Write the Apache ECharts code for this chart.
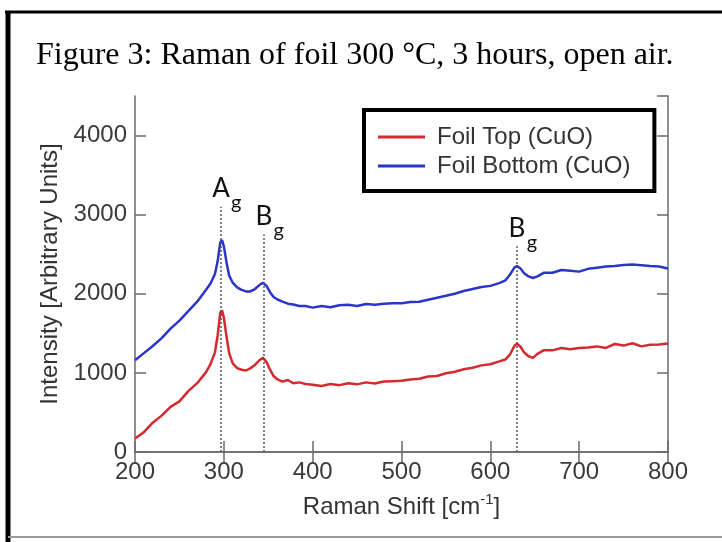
<!DOCTYPE html>
<html>
<head>
<meta charset="utf-8">
<title>Raman of foil 300 °C</title>
<script src="https://cdn.jsdelivr.net/npm/echarts@6.0.0/dist/echarts.min.js"></script>
<style>
  html, body { margin: 0; padding: 0; background: #fff; }
  .chart { width: 722px; height: 542px; }
</style>
</head>
<body>
<div class="chart"></div>
<script>
// Raman shift (cm-1)
var shift = [200, 210, 220, 230, 240, 250, 260, 270, 280, 285, 290, 293, 296, 298, 300, 303, 306, 310, 315, 320,
  325, 330, 335, 340, 344, 348, 352, 356, 360, 366, 372, 378, 385, 392, 400, 410, 420, 430, 440, 450,
  460, 470, 480, 490, 500, 510, 520, 530, 540, 550, 560, 570, 580, 590, 600, 610, 617, 622, 627, 630,
  634, 638, 643, 648, 653, 660, 670, 680, 690, 700, 710, 720, 730, 740, 750, 760, 770, 780, 790, 800];
// Foil Top (CuO)
var topFoil = [170, 250, 370, 460, 570, 640, 770, 870, 1010, 1110, 1260, 1470, 1760, 1790, 1700, 1460, 1250, 1120, 1060, 1040,
  1030, 1060, 1100, 1160, 1190, 1140, 1040, 960, 920, 890, 910, 870, 880, 860, 850, 835, 860, 845, 870, 855,
  880, 865, 890, 895, 900, 915, 925, 955, 960, 995, 1015, 1045, 1065, 1095, 1110, 1145, 1170, 1230, 1340, 1370,
  1330, 1260, 1210, 1190, 1240, 1285, 1285, 1315, 1300, 1315, 1320, 1335, 1315, 1365, 1345, 1375, 1335, 1355, 1360, 1370];
// Foil Bottom (CuO)
var bottomFoil = [1160, 1250, 1340, 1440, 1560, 1660, 1780, 1900, 2050, 2130, 2250, 2410, 2650, 2680, 2600, 2400, 2230, 2140, 2080, 2050,
  2030, 2030, 2060, 2110, 2140, 2100, 2020, 1960, 1930, 1900, 1875, 1865, 1845, 1845, 1825, 1845, 1830, 1855, 1860, 1845,
  1870, 1860, 1875, 1880, 1880, 1895, 1900, 1925, 1950, 1975, 2000, 2035, 2060, 2085, 2100, 2135, 2170, 2240, 2330, 2350,
  2320, 2260, 2220, 2200, 2220, 2265, 2265, 2300, 2290, 2280, 2315, 2330, 2345, 2350, 2365, 2370, 2360, 2350, 2345, 2320];
// peak markers
var peakShift = [297, 345, 630];
var peakTop = [3100, 2750, 2600];
var peakLetter = ['A', 'B', 'B'];

(function () {
  var myChart = echarts.init(document.querySelector('.chart'));
  var sans = '"Liberation Sans", Arial, sans-serif';
  var axisColor = '#6b6b6b';

  function pairs(ys) {
    return shift.map(function (x, i) { return [x, ys[i]]; });
  }

  // dotted peak lines + letter / subscript labels
  var lines = [];
  var marks = [];
  peakShift.forEach(function (x, i) {
    lines.push([{ coord: [x, 0] }, { coord: [x, peakTop[i]] }]);
    marks.push({
      coord: [x, peakTop[i]],
      label: { formatter: peakLetter[i], offset: [0, -18], fontSize: 26 }
    });
    marks.push({
      coord: [x, peakTop[i]],
      label: { formatter: 'g', offset: [15, -4], fontSize: 20 }
    });
  });

  var option = {
    animation: false,
    grid: { left: 135, right: 54, top: 96, bottom: 90 },
    graphic: [
      // frame of the figure
      { type: 'line', shape: { x1: 5, y1: 12, x2: 722, y2: 12 }, style: { stroke: '#000', lineWidth: 3 } },
      { type: 'line', shape: { x1: 8, y1: 11, x2: 8, y2: 542 }, style: { stroke: '#000', lineWidth: 5 } },
      { type: 'line', shape: { x1: 8, y1: 537, x2: 722, y2: 537 }, style: { stroke: '#9a9a9a', lineWidth: 2 } },
      {
        type: 'text', left: 36, top: 40,
        style: { text: 'Figure 3: Raman of foil 300 °C, 3 hours, open air.', font: '32px "Liberation Serif", serif', fill: '#000' }
      }
    ],
    legend: {
      data: ['Foil Top (CuO)', 'Foil Bottom (CuO)'],
      orient: 'vertical',
      left: 364,
      top: 110,
      icon: 'rect',
      itemWidth: 47,
      itemHeight: 3,
      itemGap: 5,
      padding: [15, 24, 13, 14],
      borderColor: '#000',
      borderWidth: 4,
      backgroundColor: '#fff',
      selectedMode: false,
      textStyle: { fontSize: 24, color: '#333', fontFamily: sans, padding: [0, 0, 0, 7] }
    },
    xAxis: [
      {
        type: 'value', min: 200, max: 800, interval: 100, position: 'bottom',
        name: 'Raman Shift [cm{sup|-1}]',
        nameLocation: 'middle',
        nameGap: 40,
        nameTextStyle: {
          fontSize: 24, color: '#333', fontFamily: sans,
          rich: { sup: { fontSize: 15, color: '#333', fontFamily: sans, padding: [0, 0, 16, 0] } }
        },
        axisLine: { lineStyle: { color: axisColor, width: 1.5 } },
        axisTick: { inside: true, length: 11, lineStyle: { color: axisColor, width: 1.5 } },
        axisLabel: { fontSize: 24, color: '#3a3a3a', fontFamily: sans, margin: 8 },
        splitLine: { show: false }
      },
      {
        type: 'value', min: 200, max: 800, interval: 100, position: 'top',
        axisLine: { lineStyle: { color: axisColor, width: 1.5 } },
        axisTick: { inside: true, length: 11, lineStyle: { color: axisColor, width: 1.5 } },
        axisLabel: { show: false },
        splitLine: { show: false }
      }
    ],
    yAxis: [
      {
        type: 'value', min: 0, max: 4500, interval: 1000, position: 'left',
        name: 'Intensity [Arbitrary Units]',
        nameLocation: 'middle',
        nameGap: 70,
        nameTextStyle: { fontSize: 24, color: '#333', fontFamily: sans },
        axisLine: { show: true, lineStyle: { color: axisColor, width: 1.5 } },
        axisTick: { show: true, inside: true, length: 11, lineStyle: { color: axisColor, width: 1.5 } },
        axisLabel: {
          fontSize: 24, color: '#3a3a3a', fontFamily: sans, margin: 8, showMaxLabel: false,
          formatter: function (v) { return String(v); }
        },
        splitLine: { show: false }
      },
      {
        type: 'value', min: 0, max: 4500, interval: 1000, position: 'right',
        axisLine: { show: true, lineStyle: { color: axisColor, width: 1.5 } },
        axisTick: { show: true, inside: true, length: 11, lineStyle: { color: axisColor, width: 1.5 } },
        axisLabel: { show: false },
        splitLine: { show: false }
      }
    ],
    series: [
      {
        // only carries the peak annotations, drawn under the curves
        name: 'peaks',
        type: 'line',
        data: [],
        z: 1,
        markLine: {
          silent: true,
          symbol: 'none',
          label: { show: false },
          lineStyle: { color: '#555', width: 1.5, type: [2, 2] },
          data: lines
        },
        markPoint: {
          silent: true,
          symbol: 'circle',
          symbolSize: 1,
          itemStyle: { color: 'rgba(0,0,0,0)' },
          label: { show: true, position: 'inside', color: '#111', fontFamily: 'Lato, sans-serif' },
          data: marks
        }
      },
      {
        name: 'Foil Top (CuO)',
        type: 'line',
        data: pairs(topFoil),
        showSymbol: false,
        symbol: 'none',
        z: 3,
        color: '#d42a2f',
        lineStyle: { width: 2.5, color: '#d42a2f' }
      },
      {
        name: 'Foil Bottom (CuO)',
        type: 'line',
        data: pairs(bottomFoil),
        showSymbol: false,
        symbol: 'none',
        z: 3,
        color: '#2a35c9',
        lineStyle: { width: 2.5, color: '#2a35c9' }
      }
    ]
  };
  myChart.setOption(option);
  window.addEventListener('resize', function () {
    myChart.resize();
  });
})();
</script>
</body>
</html>
